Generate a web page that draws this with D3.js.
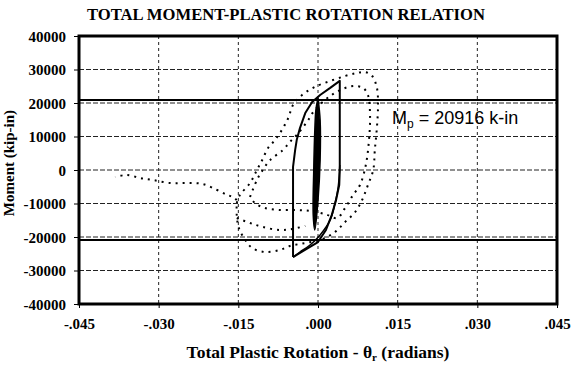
<!DOCTYPE html>
<html><head><meta charset="utf-8">
<script src="https://cdn.jsdelivr.net/npm/d3@7"></script>
<style>body{margin:0;background:#fff}svg{display:block}</style>
</head><body>
<svg id="c" width="581" height="380"></svg>
<script>
// ---- data ----
const titleText = "TOTAL MOMENT-PLASTIC ROTATION RELATION";
const xTicks = [-0.045,-0.030,-0.015,0,0.015,0.030,0.045];
const xTickLabels = ["-.045","-.030","-.015",".000",".015",".030",".045"];
const yTicks = [40000,30000,20000,10000,0,-10000,-20000,-30000,-40000];
const yTickLabels = ["40000","30000","20000","10000","0","-10000","-20000","-30000","-40000"];
const Mp = 20916;
// solid hysteresis loop [rotation, moment]
const solidLoop = [[-0.0047,-26000],[-0.0047,-9000],[-0.0047,900],[-0.0043,6000],[-0.0040,9000],[-0.0034,12500],[-0.0024,17000],[-0.0011,20300],[0.0004,22400],[0.0023,24500],[0.0041,26600],[0.0041,20900],[0.0041,9000],[0.0041,0],[0.0040,-4500],[0.0034,-9000],[0.0026,-13400],[0.0015,-17900],[0.0000,-21500],[-0.0019,-23300],[-0.0047,-26000]];
const solidSecond = [[0.0041,1500],[0.0038,-5100],[0.0032,-9900],[0.0023,-14900],[0.0004,-19400],[-0.0015,-22400],[-0.0034,-24500],[-0.0047,-26000]];
const elasticBand = [[0.0000,21500],[0.0004,14900],[0.0004,3000],[0.0000,-9000],[-0.0006,-17900],[-0.0009,-13400],[-0.0008,0],[-0.0006,11900],[-0.0004,17900],[0.0000,21500]];
// dotted cycles
const dottedOuter = [[-0.0153,-9850],[-0.0147,-7460],[-0.0128,-3880],[-0.0115,0],[-0.0105,2990],[-0.0094,6570],[-0.0081,8960],[-0.0068,11940],[-0.0056,15520],[-0.0047,19400],[-0.0030,22390],[-0.0006,24780],[0.0023,26570],[0.0051,28060],[0.0073,28950],[0.0089,29250],[0.0102,28060],[0.0111,24480],[0.0113,19400],[0.0111,12840],[0.0107,5970],[0.0104,0],[0.0094,-4480],[0.0083,-8960],[0.0070,-12540],[0.0051,-15520],[0.0032,-18510],[0.0004,-20900],[-0.0024,-21790],[-0.0053,-22690],[-0.0072,-23880],[-0.0100,-24480],[-0.0124,-23280],[-0.0137,-20900],[-0.0149,-17310],[-0.0153,-13430],[-0.0153,-9850]];
const dottedInner = [[-0.0128,-8060],[-0.0115,-2990],[-0.0104,0],[-0.0090,2990],[-0.0066,5970],[-0.0053,8360],[-0.0040,10450],[-0.0021,14330],[-0.0006,17910],[0.0023,22090],[0.0051,24480],[0.0070,25070],[0.0085,24480],[0.0094,22390],[0.0098,16420],[0.0096,8960],[0.0090,1490],[0.0079,-4480],[0.0066,-7460],[0.0051,-11340],[0.0036,-14330],[0.0013,-13130],[-0.0015,-12240],[-0.0040,-11940],[-0.0072,-11940],[-0.0100,-11340],[-0.0119,-9850],[-0.0128,-8060]];
const dottedMid = [[-0.0153,-14330],[-0.0128,-15820],[-0.0104,-17010],[-0.0072,-17910],[-0.0049,-17610],[-0.0024,-16720]];
const dottedTail = [[-0.0153,-8960],[-0.0160,-8060],[-0.0171,-7460],[-0.0190,-5970],[-0.0217,-4180],[-0.0247,-3880],[-0.0279,-3880],[-0.0311,-2990],[-0.0335,-2390],[-0.0360,-1490],[-0.0382,-2090]];

// ---- chart ----
const svg = d3.select("#c");
const L=79,R=557,T=36,B=304;
const x = d3.scaleLinear().domain([-0.045,0.045]).range([L,R]);
const y = d3.scaleLinear().domain([-40000,40000]).range([B,T]);
const serif = "'Liberation Serif','Times New Roman',serif";

svg.append("text").attr("x",(87+485)/2).attr("y",20).attr("text-anchor","middle")
  .attr("font-family",serif).attr("font-weight","bold").attr("font-size",16.5)
  .attr("textLength",398).attr("lengthAdjust","spacingAndGlyphs").text(titleText);

// gridlines
const g = svg.append("g");
g.selectAll("line.hg").data(yTicks.slice(1,-1)).join("line")
  .attr("x1",L).attr("x2",R).attr("y1",d=>y(d)).attr("y2",d=>y(d))
  .attr("stroke","#222").attr("stroke-width",1).attr("stroke-dasharray","5,2");
g.selectAll("line.vg").data(xTicks.slice(1,-1)).join("line")
  .attr("x1",d=>x(d)).attr("x2",d=>x(d)).attr("y1",T).attr("y2",B)
  .attr("stroke","#222").attr("stroke-width",1).attr("stroke-dasharray","3,3");

// Mp lines
g.selectAll("line.mp").data([Mp,-Mp]).join("line")
  .attr("x1",L).attr("x2",R).attr("y1",d=>y(d)).attr("y2",d=>y(d))
  .attr("stroke","#000").attr("stroke-width",2);

// axes
const xAxis = d3.axisBottom(x).tickValues(xTicks).tickFormat((d,i)=>xTickLabels[i]).tickSize(4).tickPadding(10);
const yAxis = d3.axisLeft(y).tickValues(yTicks).tickFormat((d,i)=>yTickLabels[i]).tickSize(5).tickPadding(8);
const ax = svg.append("g").attr("transform",`translate(0,${B})`).call(xAxis);
const ay = svg.append("g").attr("transform",`translate(${L},0)`).call(yAxis);
[ax,ay].forEach(a=>{
  a.select(".domain").remove();
  a.selectAll("text").attr("font-family",serif).attr("font-weight","bold").attr("font-size",15).attr("fill","#000");
  a.selectAll("line").attr("stroke","#000");
});
ay.selectAll("text").attr("dy","0.35em");

// frame
svg.append("rect").attr("x",L).attr("y",T).attr("width",R-L).attr("height",B-T)
  .attr("fill","none").attr("stroke","#000").attr("stroke-width",3);

// data
const line = d3.line().x(d=>x(d[0])).y(d=>y(d[1]));
const curve = d3.line().x(d=>x(d[0])).y(d=>y(d[1])).curve(d3.curveCatmullRom);
[dottedOuter,dottedInner,dottedMid,dottedTail].forEach(s=>{
  svg.append("path").attr("d",curve(s)).attr("fill","none").attr("stroke","#000")
    .attr("stroke-width",2).attr("stroke-dasharray","2,5");
});
svg.append("path").attr("d",line(solidLoop)).attr("fill","none").attr("stroke","#000").attr("stroke-width",2).attr("stroke-linejoin","round");
svg.append("path").attr("d",curve(solidSecond)).attr("fill","none").attr("stroke","#000").attr("stroke-width",1.5);
svg.append("path").attr("d",curve(elasticBand)).attr("fill","#000").attr("stroke","#000").attr("stroke-width",1.5);

// annotation
const ann = svg.append("text").attr("x",392).attr("y",124)
  .attr("font-family","'Liberation Sans',Arial,sans-serif").attr("font-size",18).attr("fill","#000");
ann.append("tspan").text("M");
ann.append("tspan").attr("font-size",12).attr("dy",4).text("p");
ann.append("tspan").attr("dy",-4).text(" = 20916 k-in");

// axis titles
const xt = svg.append("text").attr("x",318).attr("y",358).attr("text-anchor","middle")
  .attr("font-family",serif).attr("font-weight","bold").attr("font-size",17.5);
xt.append("tspan").text("Total Plastic Rotation - θ");
xt.append("tspan").attr("font-size",11).attr("dy",3).text("r");
xt.append("tspan").attr("dy",-3).text(" (radians)");

svg.append("text").attr("transform","translate(14,163) rotate(-90)").attr("text-anchor","middle")
  .attr("font-family",serif).attr("font-weight","bold").attr("font-size",15).text("Moment (kip-in)");
</script>
</body></html>
